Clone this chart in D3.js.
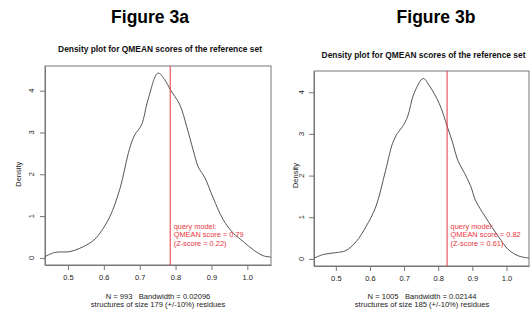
<!DOCTYPE html>
<html>
<head>
<meta charset="utf-8">
<script src="https://cdn.jsdelivr.net/npm/d3@7"></script>
<style>
  html, body { margin: 0; padding: 0; background: #fff; }
  svg { display: block; font-family: "Liberation Sans", Arial, sans-serif; }
  text { white-space: pre; }
</style>
</head>
<body>
<svg id="chart" width="532" height="317"></svg>
<script>
// ---- Data ----
const figureTitles = ["Figure 3a", "Figure 3b"];
const plotTitle = "Density plot for QMEAN scores of the reference set";
const xTicks = [0.5, 0.6, 0.7, 0.8, 0.9, 1.0];
const yTicks = [0, 1, 2, 3, 4];

const scoresA = [0.436, 0.463, 0.505, 0.533, 0.570, 0.589, 0.617, 0.644, 0.672, 0.686, 0.705, 0.723, 0.751, 0.770, 0.785, 0.812, 0.831, 0.849, 0.863, 0.882, 0.905, 0.933, 0.961, 0.989, 1.017, 1.045, 1.066];
const densityA = [0.03, 0.13, 0.15, 0.23, 0.41, 0.59, 0.99, 1.63, 2.62, 2.94, 3.18, 3.78, 4.42, 4.26, 4.03, 3.66, 3.14, 2.58, 2.18, 1.91, 1.43, 0.91, 0.59, 0.39, 0.19, 0.05, 0.02];
const queryA = 0.785;
const annotA = ["query model:", "QMEAN score = 0.79", "(Z-score = 0.22)"];
const footA = ["N = 993   Bandwidth = 0.02096", "structures of size 179 (+/-10%) residues"];

const scoresB = [0.436, 0.465, 0.500, 0.529, 0.559, 0.588, 0.617, 0.646, 0.666, 0.680, 0.695, 0.710, 0.729, 0.756, 0.773, 0.803, 0.826, 0.843, 0.857, 0.877, 0.896, 0.909, 0.938, 0.977, 1.006, 1.036, 1.066];
const densityB = [0.02, 0.11, 0.15, 0.20, 0.41, 0.77, 1.25, 2.13, 2.77, 3.01, 3.17, 3.41, 3.97, 4.33, 4.17, 3.73, 3.19, 2.77, 2.37, 2.06, 1.73, 1.41, 1.01, 0.53, 0.22, 0.07, 0.02];
const queryB = 0.826;
const annotB = ["query model:", "QMEAN score = 0.82", "(Z-score = 0.61)"];
const footB = ["N = 1005   Bandwidth = 0.02144", "structures of size 185 (+/-10%) residues"];

const xDomain = [0.436, 1.066];

// ---- Layout ----
const panels = [
  { title: figureTitles[0], figX: 150, titleY: 49.5, box: { l: 45, r: 271, t: 66, b: 265 }, yDomain: [-0.17, 4.59],
    xs: scoresA, ds: densityA, q: queryA, annot: annotA, foot: footA, ylabX: 18, ytickX: 34, footX: 158 },
  { title: figureTitles[1], figX: 436, titleY: 55, box: { l: 314, r: 529, t: 71, b: 266 }, yDomain: [-0.17, 4.51],
    xs: scoresB, ds: densityB, q: queryB, annot: annotB, foot: footB, ylabX: 295.5, ytickX: 304, footX: 422 }
];

const svg = d3.select("#chart");
const red = "#e8353d";

panels.forEach(p => {
  const g = svg.append("g");
  const x = d3.scaleLinear().domain(xDomain).range([p.box.l, p.box.r]);
  const y = d3.scaleLinear().domain(p.yDomain).range([p.box.b, p.box.t]);
  const cx = (p.box.l + p.box.r) / 2;

  // Figure title
  g.append("text").attr("x", p.figX).attr("y", 17).attr("dy", "0.35em")
    .attr("text-anchor", "middle").attr("font-size", 17.5).attr("font-weight", "bold")
    .attr("fill", "#000").text(p.title);

  // Plot title
  g.append("text").attr("x", cx + 2).attr("y", p.titleY).attr("dy", "0.35em")
    .attr("text-anchor", "middle").attr("font-size", 8.4).attr("font-weight", "bold")
    .attr("fill", "#111").text(plotTitle);

  // Box
  g.append("rect").attr("x", p.box.l).attr("y", p.box.t)
    .attr("width", p.box.r - p.box.l).attr("height", p.box.b - p.box.t)
    .attr("fill", "none").attr("stroke", "#777").attr("stroke-width", 1);

  // X axis
  const xAxis = d3.axisBottom(x).tickValues(xTicks).tickSize(5).tickSizeOuter(0)
    .tickFormat(d3.format(".1f"));
  const xg = g.append("g").attr("transform", `translate(0,${p.box.b})`).call(xAxis);
  xg.select(".domain").attr("stroke", "#777");
  xg.selectAll(".tick line").attr("stroke", "#777");
  xg.selectAll(".tick text").attr("font-size", 7.5).attr("fill", "#222")
    .attr("font-family", "Liberation Sans, Arial, sans-serif").attr("y", 10);

  // Y axis (R style rotated labels)
  const yAxis = d3.axisLeft(y).tickValues(yTicks).tickSize(5).tickSizeOuter(0)
    .tickFormat(d3.format("d"));
  const yg = g.append("g").attr("transform", `translate(${p.box.l},0)`).call(yAxis);
  yg.select(".domain").attr("stroke", "#777");
  yg.selectAll(".tick line").attr("stroke", "#777");
  yg.selectAll(".tick text").remove();
  yTicks.forEach(t => {
    g.append("text").attr("transform", `translate(${p.ytickX},${y(t)}) rotate(-90)`)
      .attr("text-anchor", "middle").attr("font-size", 7.5).attr("fill", "#222").text(t);
  });

  // Y label
  g.append("text").attr("transform", `translate(${p.ylabX},${y(2)}) rotate(-90)`)
    .attr("dy", "0.35em").attr("text-anchor", "middle").attr("font-size", 7.5).attr("fill", "#222")
    .text("Density");

  // Density curve
  const pts = p.xs.map((v, i) => [v, p.ds[i]]);
  const line = d3.line().x(d => x(d[0])).y(d => y(d[1])).curve(d3.curveCatmullRom.alpha(0.5));
  g.append("path").datum(pts).attr("d", line)
    .attr("fill", "none").attr("stroke", "#555").attr("stroke-width", 1);

  // Query line
  g.append("line").attr("x1", x(p.q)).attr("x2", x(p.q))
    .attr("y1", p.box.t).attr("y2", p.box.b)
    .attr("stroke", red).attr("stroke-width", 1);

  // Annotation
  p.annot.forEach((s, i) => {
    g.append("text").attr("x", x(p.q) + 3.5).attr("y", 226.5 + i * 8.3).attr("dy", "0.35em")
      .attr("font-size", 7.4).attr("fill", red).text(s);
  });

  // Footer text
  p.foot.forEach((s, i) => {
    g.append("text").attr("x", p.footX).attr("y", 296 + i * 8.3).attr("dy", "0.35em")
      .attr("text-anchor", "middle").attr("font-size", 7.6).attr("fill", "#222").text(s);
  });
});
</script>
</body>
</html>
